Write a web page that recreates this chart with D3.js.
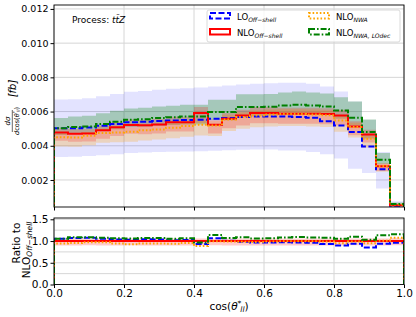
<!DOCTYPE html>
<html>
<head>
<meta charset="utf-8">
<script src="https://cdn.jsdelivr.net/npm/d3@7"></script>
<style>
  body { margin: 0; background: #fff; }
  svg { font-family: "DejaVu Sans", sans-serif; }
</style>
</head>
<body>
<svg id="chart" width="416" height="317"></svg>
<script>
// bin edges of cos(theta*_ll), 25 bins
const edges = d3.range(26).map(i => +(i * 0.04).toFixed(2));

// central values [fb]
const nloOff = [0.00478, 0.00470, 0.00472, 0.00490, 0.00508, 0.00522, 0.00520, 0.00525, 0.00538, 0.00538,
                0.00591, 0.00523, 0.00558, 0.00577, 0.00591, 0.00591, 0.00587, 0.00587, 0.00587, 0.00585,
                0.00577, 0.00513, 0.00466, 0.00280, 0.00052];
const loOff  = [0.00503, 0.00503, 0.00507, 0.00517, 0.00527, 0.00538, 0.00540, 0.00545, 0.00548, 0.00550,
                0.00552, 0.00558, 0.00562, 0.00568, 0.00571, 0.00571, 0.00571, 0.00568, 0.00564, 0.00544,
                0.00519, 0.00480, 0.00396, 0.00262, 0.00050];
const nloNwa = [0.00450, 0.00448, 0.00458, 0.00475, 0.00478, 0.00482, 0.00490, 0.00495, 0.00505, 0.00515,
                0.00523, 0.00519, 0.00553, 0.00568, 0.00577, 0.00583, 0.00585, 0.00585, 0.00583, 0.00578,
                0.00548, 0.00509, 0.00441, 0.00282, 0.00056];
const nloNwaLOdec = [0.00503, 0.00510, 0.00513, 0.00527, 0.00540, 0.00552, 0.00555, 0.00562, 0.00566, 0.00571,
                0.00571, 0.00597, 0.00597, 0.00626, 0.00626, 0.00628, 0.00636, 0.00640, 0.00636, 0.00630,
                0.00606, 0.00564, 0.00480, 0.00318, 0.00060];

// scale-uncertainty bands
const loUp   = [0.00670, 0.00672, 0.00678, 0.00690, 0.00703, 0.00716, 0.00720, 0.00727, 0.00733, 0.00736,
                0.00740, 0.00746, 0.00752, 0.00758, 0.00763, 0.00765, 0.00768, 0.00768, 0.00762, 0.00746,
                0.00717, 0.00659, 0.00552, 0.00363, 0.00075];
const loDown = [0.00334, 0.00336, 0.00340, 0.00344, 0.00350, 0.00357, 0.00360, 0.00363, 0.00365, 0.00367,
                0.00368, 0.00371, 0.00374, 0.00377, 0.00378, 0.00378, 0.00373, 0.00372, 0.00363, 0.00350,
                0.00325, 0.00266, 0.00241, 0.00150, 0.00040];
const nloOffUp   = [0.00506, 0.00498, 0.00500, 0.00519, 0.00538, 0.00553, 0.00551, 0.00556, 0.00570, 0.00570,
                    0.00626, 0.00554, 0.00591, 0.00611, 0.00626, 0.00626, 0.00622, 0.00622, 0.00622, 0.00620,
                    0.00611, 0.00544, 0.00494, 0.00297, 0.00056];
const nloOffDown = [0.00430, 0.00423, 0.00425, 0.00441, 0.00457, 0.00470, 0.00468, 0.00472, 0.00484, 0.00484,
                    0.00532, 0.00471, 0.00502, 0.00519, 0.00532, 0.00532, 0.00528, 0.00528, 0.00528, 0.00526,
                    0.00519, 0.00462, 0.00419, 0.00252, 0.00047];
const nwaUp   = [0.00472, 0.00470, 0.00481, 0.00499, 0.00502, 0.00506, 0.00514, 0.00520, 0.00530, 0.00541,
                 0.00549, 0.00545, 0.00581, 0.00596, 0.00606, 0.00612, 0.00614, 0.00614, 0.00612, 0.00607,
                 0.00575, 0.00534, 0.00463, 0.00296, 0.00059];
const nwaDown = [0.00396, 0.00394, 0.00403, 0.00418, 0.00421, 0.00424, 0.00431, 0.00436, 0.00444, 0.00453,
                 0.00460, 0.00457, 0.00487, 0.00500, 0.00508, 0.00513, 0.00515, 0.00515, 0.00513, 0.00509,
                 0.00482, 0.00448, 0.00388, 0.00248, 0.00049];
const lodecUp   = [0.00563, 0.00571, 0.00575, 0.00590, 0.00605, 0.00618, 0.00622, 0.00629, 0.00634, 0.00640,
                   0.00640, 0.00669, 0.00669, 0.00701, 0.00701, 0.00703, 0.00712, 0.00717, 0.00712, 0.00706,
                   0.00684, 0.00659, 0.00554, 0.00357, 0.00068];
const lodecDown = [0.00463, 0.00469, 0.00472, 0.00485, 0.00497, 0.00508, 0.00511, 0.00517, 0.00521, 0.00525,
                   0.00525, 0.00549, 0.00549, 0.00576, 0.00576, 0.00578, 0.00585, 0.00589, 0.00585, 0.00580,
                   0.00558, 0.00519, 0.00442, 0.00293, 0.00055];

const xTicks = [0.0, 0.2, 0.4, 0.6, 0.8, 1.0];
const yTicks = [0.002, 0.004, 0.006, 0.008, 0.010, 0.012];
const rTicks = [0.0, 0.5, 1.0, 1.5];
const rGrid = [0.25, 0.5, 0.75, 1.0, 1.25, 1.5];

const svg = d3.select("#chart");
const left = 54, right = 404;
const main = {top: 5, bottom: 207};
const rat = {top: 218, bottom: 284.5};

const x = d3.scaleLinear().domain([0, 1]).range([left, right]);
const y = d3.scaleLinear().domain([0.00042, 0.01223]).range([main.bottom, main.top]);
const yr = d3.scaleLinear().domain([0, 1.53]).range([rat.bottom, rat.top]);

const defs = svg.append("defs");
defs.append("clipPath").attr("id", "clipMain").append("rect")
    .attr("x", left).attr("y", main.top).attr("width", right - left).attr("height", main.bottom - main.top);
defs.append("clipPath").attr("id", "clipRat").append("rect")
    .attr("x", left).attr("y", rat.top).attr("width", right - left).attr("height", rat.bottom - rat.top);

const colors = {lo: "#0000ff", nlo: "#ff0000", nwa: "#ffa500", lodec: "#008000"};
const styles = {lo: "6,2.5", nlo: null, nwa: "1.6,2", lodec: "6,2,1.6,2"};

function stepPts(vals) {
    const pts = [[0, 0]];
    vals.forEach((v, i) => pts.push([edges[i], v]));
    pts.push([1, vals[vals.length - 1]]);
    pts.push([1, 0]);
    return pts;
}

function drawPanel(g, ys, gridVals) {
    // grid
    g.selectAll(".vg").data(xTicks).enter().append("line")
        .attr("x1", d => x(d)).attr("x2", d => x(d))
        .attr("y1", ys.range()[1]).attr("y2", ys.range()[0])
        .attr("stroke", "#d6d6d6").attr("stroke-width", 1);
    g.selectAll(".hg").data(gridVals).enter().append("line")
        .attr("x1", left).attr("x2", right)
        .attr("y1", d => ys(d)).attr("y2", d => ys(d))
        .attr("stroke", "#d6d6d6").attr("stroke-width", 1);
}

// ---------- main panel ----------
const gMain = svg.append("g");
drawPanel(gMain, y, yTicks);
const pm = gMain.append("g").attr("clip-path", "url(#clipMain)");

const area = (ys) => d3.area().curve(d3.curveStepAfter)
    .x(d => x(d[0])).y0(d => ys(d[1])).y1(d => ys(d[2]));
const bandData = (lo, hi) => {
    const a = lo.map((v, i) => [edges[i], v, hi[i]]);
    a.push([1, lo[lo.length - 1], hi[hi.length - 1]]);
    return a;
};

pm.append("path").attr("d", area(y)(bandData(loDown, loUp))).attr("fill", "#0000ff").attr("fill-opacity", 0.11);
pm.append("path").attr("d", area(y)(bandData(lodecDown, lodecUp))).attr("fill", "#008000").attr("fill-opacity", 0.27);
pm.append("path").attr("d", area(y)(bandData(nwaDown, nwaUp))).attr("fill", "#ffa500").attr("fill-opacity", 0.25);
pm.append("path").attr("d", area(y)(bandData(nloOffDown, nloOffUp))).attr("fill", "#ff0000").attr("fill-opacity", 0.2);

const line = (ys) => d3.line().curve(d3.curveStepAfter).x(d => x(d[0])).y(d => ys(d[1]));
const series = [["lo", loOff], ["nlo", nloOff], ["nwa", nloNwa], ["lodec", nloNwaLOdec]];
series.forEach(([k, vals]) => {
    pm.append("path").attr("d", line(y)(stepPts(vals)))
        .attr("fill", "none").attr("stroke", colors[k]).attr("stroke-width", 2)
        .attr("stroke-dasharray", styles[k]);
});

// axes main
const axM = svg.append("g");
axM.append("g").attr("transform", `translate(0,${main.bottom})`)
    .call(d3.axisBottom(x).tickValues(xTicks).tickSize(3.5).tickFormat(""));
axM.append("g").attr("transform", `translate(${left},0)`)
    .call(d3.axisLeft(y).tickValues(yTicks).tickSize(3.5).tickPadding(2).tickFormat(d3.format(".3f")))
    .attr("font-size", 9.5);
axM.append("rect").attr("x", left).attr("y", main.top).attr("width", right - left)
    .attr("height", main.bottom - main.top).attr("fill", "none").attr("stroke", "#000").attr("stroke-width", 0.9);

// ---------- ratio panel ----------
const gRat = svg.append("g");
drawPanel(gRat, yr, rGrid);
const pr = gRat.append("g").attr("clip-path", "url(#clipRat)");
pr.append("path").attr("d", area(yr)(bandData(nloOffDown.map((v, i) => v / nloOff[i]), nloOffUp.map((v, i) => v / nloOff[i]))))
    .attr("fill", "#ff0000").attr("fill-opacity", 0.2);
series.forEach(([k, vals]) => {
    pr.append("path").attr("d", line(yr)(stepPts(vals.map((v, i) => v / nloOff[i]))))
        .attr("fill", "none").attr("stroke", colors[k]).attr("stroke-width", 2)
        .attr("stroke-dasharray", styles[k]);
});

const axR = svg.append("g");
axR.append("g").attr("transform", `translate(0,${rat.bottom})`)
    .call(d3.axisBottom(x).tickValues(xTicks).tickSize(3.5).tickPadding(2).tickFormat(d3.format(".1f")))
    .attr("font-size", 10.5);
axR.append("g").attr("transform", `translate(${left},0)`)
    .call(d3.axisLeft(yr).tickValues(rTicks).tickSize(3.5).tickPadding(2).tickFormat(d3.format(".1f")))
    .attr("font-size", 10.5);
axR.append("rect").attr("x", left).attr("y", rat.top).attr("width", right - left)
    .attr("height", rat.bottom - rat.top).attr("fill", "none").attr("stroke", "#000").attr("stroke-width", 0.9);
svg.selectAll(".domain").remove();
svg.selectAll(".tick text").attr("fill", "#000").attr("font-family", "DejaVu Sans");

// ---------- texts ----------
const proc = svg.append("text").attr("x", 72).attr("y", 23).attr("font-size", 9);
proc.append("tspan").text("Process: ");
proc.append("tspan").attr("font-style", "italic").text("tt\u0304Z");

// legend
const lg = svg.append("g");
lg.append("rect").attr("x", 207).attr("y", 10).attr("width", 193).attr("height", 32).attr("rx", 2)
    .attr("fill", "#fff").attr("fill-opacity", 0.8).attr("stroke", "#d0d0d0").attr("stroke-width", 0.8);
const legItems = [
    {k: "lo", x: 209, y: 13, main: "LO", sub: "Off\u2212shell"},
    {k: "nlo", x: 209, y: 29, main: "NLO", sub: "Off\u2212shell"},
    {k: "nwa", x: 308, y: 13, main: "NLO", sub: "NWA"},
    {k: "lodec", x: 308, y: 29, main: "NLO", sub: "NWA, LOdec"}
];
legItems.forEach(it => {
    lg.append("rect").attr("x", it.x + 1).attr("y", it.y).attr("width", 20).attr("height", 5.5)
        .attr("fill", "none").attr("stroke", colors[it.k]).attr("stroke-width", 2)
        .attr("stroke-dasharray", styles[it.k]);
    const t = lg.append("text").attr("x", it.x + 28).attr("y", it.y + 7).attr("font-size", 8.5);
    t.append("tspan").text(it.main);
    t.append("tspan").attr("font-size", 6).attr("font-style", "italic").attr("dy", 2).text(it.sub);
});

// y label main (rotated)
const yl = svg.append("g").attr("transform", "rotate(-90)");
yl.append("text").attr("x", -121).attr("y", 10).attr("text-anchor", "middle").attr("font-size", 7)
    .attr("font-style", "italic").text("d\u03c3");
yl.append("line").attr("x1", -132).attr("x2", -110).attr("y1", 12.3).attr("y2", 12.3)
    .attr("stroke", "#000").attr("stroke-width", 0.6);
const den = yl.append("text").attr("x", -121).attr("y", 18.5).attr("text-anchor", "middle").attr("font-size", 6.5);
den.append("tspan").attr("font-style", "italic").text("d");
den.append("tspan").text("cos(");
den.append("tspan").attr("font-style", "italic").text("\u03b8");
den.append("tspan").attr("font-size", 4.5).attr("dy", -2.5).text("*");
den.append("tspan").attr("font-size", 4.5).attr("font-style", "italic").attr("dx", -1).attr("dy", 4).text("ll");
den.append("tspan").attr("dy", -1.5).text(")");
yl.append("text").attr("x", -88.5).attr("y", 16).attr("text-anchor", "middle").attr("font-size", 10)
    .attr("font-style", "italic").text("[fb]");

// y label ratio
const rl = svg.append("g").attr("transform", "rotate(-90)");
rl.append("text").attr("x", -243).attr("y", 20).attr("text-anchor", "middle").attr("font-size", 10.5).text("Ratio to");
const rl2 = rl.append("text").attr("x", -250).attr("y", 30).attr("text-anchor", "middle").attr("font-size", 10.5);
rl2.append("tspan").text("NLO");
rl2.append("tspan").attr("font-size", 7.5).attr("font-style", "italic").attr("dy", 2).text("Off\u2212shell");

// x label
const xl = svg.append("text").attr("x", 229).attr("y", 310).attr("text-anchor", "middle").attr("font-size", 10.5);
xl.append("tspan").text("cos(");
xl.append("tspan").attr("font-style", "italic").text("\u03b8");
xl.append("tspan").attr("font-size", 7.5).attr("dy", -4).text("*");
xl.append("tspan").attr("font-size", 7.5).attr("font-style", "italic").attr("dx", -1).attr("dy", 6).text("ll");
xl.append("tspan").attr("dy", -2).text(")");
</script>
</body>
</html>
